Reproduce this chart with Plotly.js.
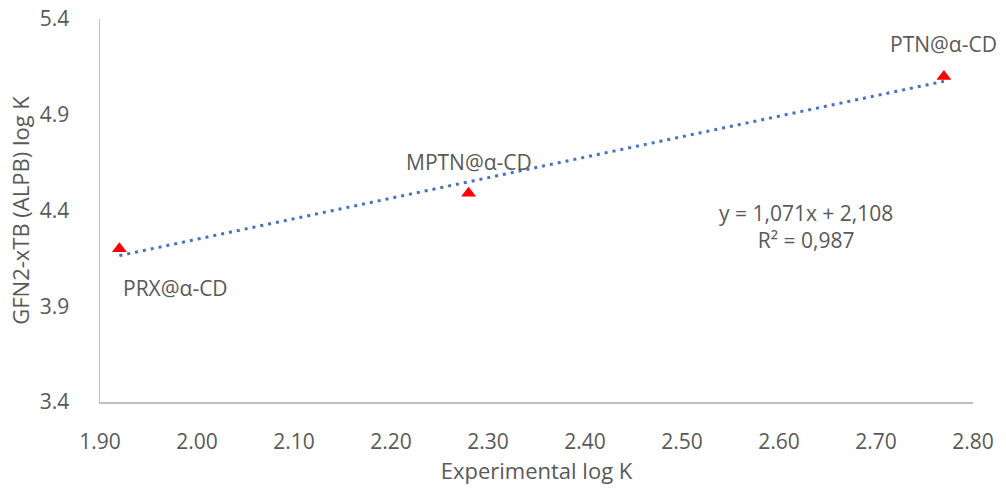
<!DOCTYPE html>
<html>
<head>
<meta charset="utf-8">
<script src="https://cdn.plot.ly/plotly-3.0.1.min.js"></script>
<style>html,body{margin:0;padding:0;background:#fff;}#chart{width:1006px;height:488px;}</style>
</head>
<body>
<div id="chart"></div>
<script>
const names = ["PRX@α-CD", "MPTN@α-CD", "PTN@α-CD"];
const experimental = [1.92, 2.28, 2.77];
const computed = [4.20, 4.49, 5.10];
const slope = 1.071;
const intercept = 2.108;
const equationText = "y = 1,071x + 2,108<br>R² = 0,987";
const xTicks = [1.9, 2.0, 2.1, 2.2, 2.3, 2.4, 2.5, 2.6, 2.7, 2.8];
const yTicks = [3.4, 3.9, 4.4, 4.9, 5.4];

const font = "'Open Sans', sans-serif";
const grey = "#595959";

const xMin = Math.min(...experimental), xMax = Math.max(...experimental);
const trend = {
  x: [xMin, xMax],
  y: [slope * xMin + intercept, slope * xMax + intercept],
  mode: "lines",
  line: {color: "#4472C4", width: 3, dash: "3px,5px"},
  hoverinfo: "skip",
  showlegend: false
};
const pts = {
  x: experimental, y: computed, mode: "markers",
  marker: {symbol: "triangle-up", size: 13, color: "#FF0000"},
  showlegend: false
};

const shifts = [[56, -39], [0, 31], [0, 32]];
const annotations = names.map((n, i) => ({
  x: experimental[i], y: computed[i], xref: "x", yref: "y",
  text: n, showarrow: false, xshift: shifts[i][0], yshift: shifts[i][1],
  xanchor: "center", yanchor: "middle",
  font: {family: font, size: 21, color: grey}
}));
annotations.push({
  x: 0.809, y: 0.457, xref: "paper", yref: "paper", text: equationText,
  showarrow: false, align: "center", xanchor: "center", yanchor: "middle",
  font: {family: font, size: 21, color: grey}
});

const layout = {
  width: 1006, height: 488,
  margin: {l: 100, r: 33, t: 19, b: 86},
  paper_bgcolor: "#fff", plot_bgcolor: "#fff",
  font: {family: font, color: grey},
  xaxis: {
    range: [1.9, 2.8], tickvals: xTicks, ticktext: xTicks.map(v => v.toFixed(2)),
    showgrid: false, zeroline: false, showline: true, linecolor: "#BFBFBF", linewidth: 1.5,
    ticks: "", ticklabelstandoff: 20, tickfont: {family: font, size: 21, color: grey},
    title: {text: "Experimental log K", font: {family: font, size: 22, color: grey}, standoff: 10}
  },
  yaxis: {
    range: [3.4, 5.4], tickvals: yTicks, ticktext: yTicks.map(v => v.toFixed(1)),
    showgrid: false, zeroline: false, showline: true, linecolor: "#BFBFBF", linewidth: 1.5,
    ticks: "", ticklabelstandoff: 25, tickfont: {family: font, size: 21, color: grey},
    title: {text: "GFN2-xTB (ALPB) log K", font: {family: font, size: 22, color: grey}, standoff: 4}
  },
  annotations: annotations
};

Plotly.newPlot("chart", [trend, pts], layout, {displayModeBar: false, staticPlot: true});
</script>
</body>
</html>
